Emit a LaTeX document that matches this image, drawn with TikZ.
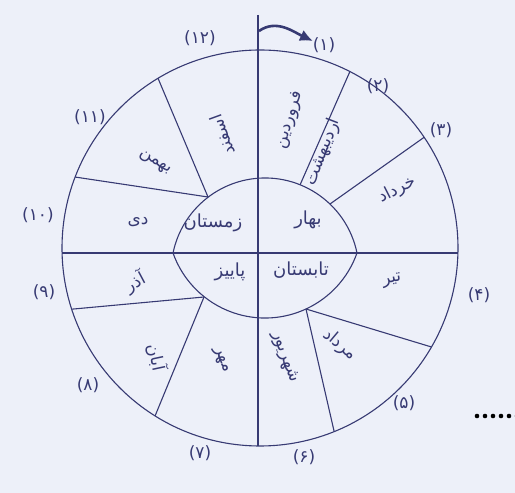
\documentclass[tikz,border=0pt]{standalone}
\usepackage{fontspec}
\newfontfamily\arabicfont[Script=Arabic]{DejaVu Sans}
\TeXXeTstate=1
\usetikzlibrary{arrows.meta,calc}
\definecolor{inkblue}{RGB}{55,58,115}
\definecolor{paperblue}{RGB}{237,240,249}
\newcommand{\fatext}[1]{\beginR #1\endR}

\begin{document}
\begin{tikzpicture}[x=1pt,y=1pt,
    ink/.style={draw=inkblue, line width=1.1pt},
    month/.style={text=inkblue, font=\fontsize{17}{19}\arabicfont, inner sep=0pt},
    season/.style={text=inkblue, font=\fontsize{18}{20}\arabicfont, inner sep=0pt},
    num/.style={text=inkblue, font=\fontsize{17}{19}\arabicfont, inner sep=0pt}]

    \fill[paperblue] (0,0) rectangle (515,493);
    \useasboundingbox (0,0) rectangle (515,493);

    \coordinate (O) at (260,245);
    \coordinate (axtop) at (258,478);
    \coordinate (axbot) at (258,47);
    \coordinate (axleft) at (62,240);
    \coordinate (axright) at (458,240);
    \coordinate (lensright) at (357,240);

    % wheel and axes
    \draw[ink] (O) circle (198);
    \draw[ink] (axtop) -- (axbot);
    \draw[ink] (axleft) -- (axright);

    % seasons lens
    \draw[ink] (lensright) arc[start angle=11.6, end angle=168.4, radius=93.9];
    \draw[ink] (lensright) arc[start angle=-19.5, end angle=-160.5, radius=97.6];

    % month separators
    \draw[ink] (300,308) -- ($(O)+(63:198)$);
    \draw[ink] (330,289) -- ($(O)+(34:198)$);
    \draw[ink] (208,296) -- ($(O)+(121:198)$);
    \draw[ink] (208,296) -- ($(O)+(159:198)$);
    \draw[ink] (204,196) -- ($(O)+(198:198)$);
    \draw[ink] (204,196) -- ($(O)+(238:198)$);
    \draw[ink] (306,184) -- ($(O)+(-30:198)$);
    \draw[ink] (306,184) -- ($(O)+(-68:198)$);

    % direction arrow
    \coordinate (arrstart) at (259,462);
    \coordinate (arrend) at (313,452);
    \draw[draw=inkblue, line width=2.6pt, -{Latex[length=13pt,width=12pt]}]
        (arrstart) to[out=35,in=155] (arrend);

    % months
    \node[month, rotate=72] (farvardin) at (290,373) {\fatext{فروردین}};
    \node[month, rotate=69] (ordibehesht) at (323,341) {\fatext{اردیبهشت}};
    \node[month, rotate=27] (khordad) at (397,303) {\fatext{خرداد}};
    \node[month, rotate=12] (tir) at (392,213) {\fatext{تیر}};
    \node[month, rotate=-40] (mordad) at (340,148) {\fatext{مرداد}};
    \node[month, rotate=-70] (shahrivar) at (285,136) {\fatext{شهریور}};
    \node[month, rotate=-68] (mehr) at (221,133) {\fatext{مهر}};
    \node[month, rotate=-78] (aban) at (157,136) {\fatext{آبان}};
    \node[month, rotate=28] (azar) at (135,211) {\fatext{آذر}};
    \node[month] (dey) at (138,271) {\fatext{دی}};
    \node[month, rotate=-30] (bahman) at (155,330) {\fatext{بهمن}};
    \node[month, rotate=110] (esfand) at (222,358) {\fatext{اسفند}};

    % seasons
    \node[season] (bahar) at (308,273) {\fatext{بهار}};
    \node[season] (zemestan) at (213,270) {\fatext{زمستان}};
    \node[season] (tabestan) at (301,223) {\fatext{تابستان}};
    \node[season] (paeez) at (230,221) {\fatext{پاییز}};

    % month numbers
    \node[num] (n1) at (324,448) {(۱)};
    \node[num] (n2) at (378,407) {(۲)};
    \node[num] (n3) at (441,363) {(۳)};
    \node[num] (n4) at (479,198) {(۴)};
    \node[num] (n5) at (404,90) {(۵)};
    \node[num] (n6) at (304,36) {(۶)};
    \node[num] (n7) at (200,40) {(۷)};
    \node[num] (n8) at (88,108) {(۸)};
    \node[num] (n9) at (44,201) {(۹)};
    \node[num] (n10) at (38,278) {(۱۰)};
    \node[num] (n11) at (90,376) {(۱۱)};
    \node[num] (n12) at (200,455) {(۱۲)};

    % trailing dots
    \foreach \i in {0,...,5}
        \fill[black] (477+8*\i,77) circle (2.3);
\end{tikzpicture}
\end{document}
